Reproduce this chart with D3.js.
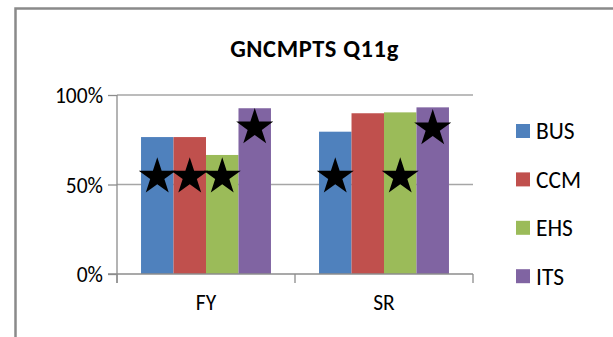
<!DOCTYPE html>
<html><head><meta charset="utf-8">
<script src="https://cdn.jsdelivr.net/npm/d3@7"></script>
<style>
html,body{margin:0;padding:0;background:#fff;}
svg{display:block;}
text{font-family:Carlito,Calibri,Lato,sans-serif;fill:#000;}
</style></head>
<body>
<svg id="c" width="613" height="337"></svg>
<script>
const title = "GNCMPTS Q11g";
const categories = ["FY", "SR"];
const seriesNames = ["BUS", "CCM", "EHS", "ITS"];
const seriesColors = ["#4F81BD", "#C0504D", "#9BBB59", "#8064A2"];
const valuesBUS = [76.5, 79.5];
const valuesCCM = [76.5, 89.8];
const valuesEHS = [66.5, 90.3];
const valuesITS = [92.6, 93.1];
const starsBUS = [54.3, 54.3];
const starsCCM = [54.3, null];
const starsEHS = [54.3, 54.3];
const starsITS = [81.8, 81.3];
const yTicks = [0, 50, 100];

const seriesValues = [valuesBUS, valuesCCM, valuesEHS, valuesITS];
const seriesStars = [starsBUS, starsCCM, starsEHS, starsITS];

const svg = d3.select("#c");
// outer chart border (only top-left portion visible)
svg.append("rect").attr("x", 15.5).attr("y", 8.5).attr("width", 800).attr("height", 600)
  .attr("fill", "none").attr("stroke", "#8a8a8a").attr("stroke-width", 2.5);

const plot = {left: 117, right: 473, top: 95, bottom: 274};
const x0 = d3.scaleBand().domain(categories).range([plot.left, plot.right]).paddingInner(0.27).paddingOuter(0.135);
const x1 = d3.scaleBand().domain(seriesNames).range([0, x0.bandwidth()]);
const y = d3.scaleLinear().domain([0, 100]).range([plot.bottom, plot.top]);

// gridlines
svg.append("g").selectAll("line").data(yTicks.filter(d => d > 0)).join("line")
  .attr("x1", plot.left).attr("x2", plot.right)
  .attr("y1", d => y(d)).attr("y2", d => y(d))
  .attr("stroke", "#a6a6a6").attr("stroke-width", 1.5);

// bars
const rows = [];
categories.forEach((c, ci) => seriesNames.forEach((s, si) => rows.push({c, s, si, v: seriesValues[si][ci], star: seriesStars[si][ci]})));
svg.append("g").selectAll("rect").data(rows).join("rect")
  .attr("x", d => x0(d.c) + x1(d.s))
  .attr("y", d => y(d.v))
  .attr("width", x1.bandwidth())
  .attr("height", d => y(0) - y(d.v))
  .attr("fill", d => seriesColors[d.si]);

// y axis
const yAxis = d3.axisLeft(y).tickValues(yTicks).tickFormat(d => d + "%").tickSize(9).tickPadding(5);
const gy = svg.append("g").attr("transform", `translate(${plot.left},0)`).call(yAxis);
gy.select(".domain").attr("stroke", "#8c8c8c").attr("stroke-width", 1.3).attr("d", `M0,${plot.top}V${plot.bottom + 9}`);
gy.selectAll(".tick line").attr("stroke", "#8c8c8c").attr("stroke-width", 1.3);
gy.selectAll(".tick text").attr("font-size", 21.5).attr("fill", "#000").style("font-family", "Carlito,Calibri,Lato,sans-serif").attr("dy", "0.35em");

// x axis
const xAxis = d3.axisBottom(x0).tickSize(0).tickPadding(21);
const gx = svg.append("g").attr("transform", `translate(0,${plot.bottom})`).call(xAxis);
gx.select(".domain").attr("stroke", "#8c8c8c").attr("stroke-width", 1.3).attr("d", `M${plot.left - 9},0H${plot.right}`);
gx.selectAll(".tick text").attr("font-size", 21.5).attr("fill", "#000").style("font-family", "Carlito,Calibri,Lato,sans-serif");
// category boundary ticks
const bounds = [plot.left, (x0(categories[0]) + x0.bandwidth() + x0(categories[1])) / 2, plot.right];
gx.append("g").selectAll("line").data(bounds).join("line")
  .attr("x1", d => d).attr("x2", d => d).attr("y1", 0).attr("y2", 9)
  .attr("stroke", "#8c8c8c").attr("stroke-width", 1.3);

// star markers
const star = d3.symbol().type(d3.symbolStar).size(427);
svg.append("g").selectAll("path").data(rows.filter(d => d.star != null)).join("path")
  .attr("transform", d => `translate(${x0(d.c) + x1(d.s) + x1.bandwidth() / 2},${y(d.star)})`)
  .attr("d", star).attr("fill", "#000");

// title
svg.append("text").attr("x", 314.5).attr("y", 57).attr("text-anchor", "middle")
  .attr("font-size", 24.5).attr("font-weight", "bold").attr("letter-spacing", 0.6).text(title);

// legend
const lg = svg.append("g").selectAll("g").data(seriesNames).join("g")
  .attr("transform", (d, i) => `translate(516,${131 + i * 48.4})`);
lg.append("rect").attr("x", 0).attr("y", -7).attr("width", 14).attr("height", 14)
  .attr("fill", (d, i) => seriesColors[i]);
lg.append("text").attr("x", 20).attr("dy", "0.36em").attr("font-size", 23.5).text(d => d);
</script>
</body></html>
